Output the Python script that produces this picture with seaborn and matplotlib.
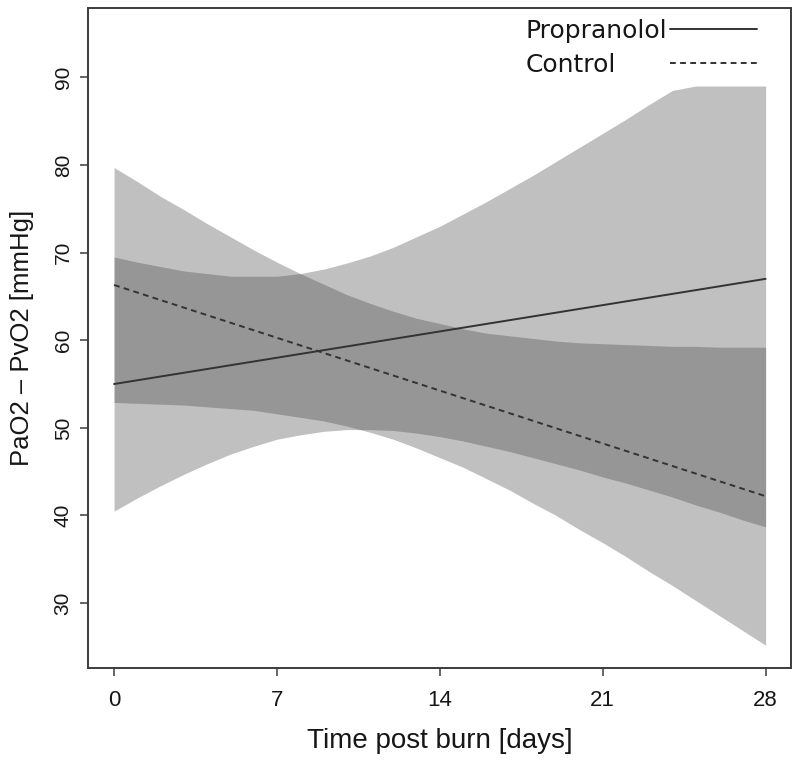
import matplotlib
matplotlib.use("Agg")
import matplotlib.pyplot as plt
import seaborn as sns
import pandas as pd
from matplotlib.lines import Line2D

# ================= data =================
DAYS = list(range(0, 29))

# fitted lines are straight: start / end values
LINE_DAYS = [0, 28]
PROP_MEAN = [55.0, 67.0]
CTRL_MEAN = [66.3, 42.2]

# confidence band limits, one value per day
PROP_LO = [40.5, 42.0, 43.4, 44.7, 45.9, 47.0, 47.9, 48.7, 49.2, 49.6,
           49.8, 49.8, 49.7, 49.4, 49.0, 48.5, 47.9, 47.3, 46.6, 45.9,
           45.2, 44.4, 43.7, 42.9, 42.1, 41.2, 40.4, 39.5, 38.7]
PROP_HI = [69.5, 68.9, 68.4, 67.9, 67.6, 67.3, 67.3, 67.3, 67.6, 68.1,
           68.8, 69.6, 70.6, 71.8, 73.0, 74.4, 75.8, 77.3, 78.8, 80.4,
           82.0, 83.6, 85.2, 86.9, 88.5, 89.0, 89.0, 89.0, 89.0]
CTRL_LO = [52.9, 52.8, 52.7, 52.6, 52.4, 52.2, 52.0, 51.6, 51.2, 50.8,
           50.2, 49.5, 48.7, 47.7, 46.6, 45.5, 44.2, 42.9, 41.4, 40.0,
           38.4, 36.9, 35.3, 33.6, 32.0, 30.3, 28.6, 26.9, 25.2]
CTRL_HI = [79.7, 78.1, 76.4, 74.9, 73.3, 71.8, 70.3, 68.9, 67.6, 66.4,
           65.2, 64.2, 63.3, 62.5, 61.9, 61.3, 60.8, 60.5, 60.2, 59.9,
           59.7, 59.6, 59.5, 59.4, 59.3, 59.3, 59.2, 59.2, 59.2]

GROUPS = ['Propranolol', 'Control']
X_TICKS = [0, 7, 14, 21, 28]
Y_TICKS = [30, 40, 50, 60, 70, 80, 90]
X_LABEL = 'Time post burn [days]'
Y_LABEL = 'PaO2 – PvO2 [mmHg]'
# ==============================================================

LINE_COLOR = '#333333'
BAND_COLOR = '#424242'
SPINE_COLOR = '#3c3c3c'
TEXT_COLOR = '#161616'


def main():
    sns.set_theme(style="white")
    plt.rcParams['font.family'] = ['Liberation Sans', 'DejaVu Sans']
    plt.rcParams['text.color'] = TEXT_COLOR
    plt.rcParams['axes.labelcolor'] = TEXT_COLOR
    plt.rcParams['xtick.labelcolor'] = TEXT_COLOR
    plt.rcParams['ytick.labelcolor'] = TEXT_COLOR

    df = pd.concat([
        pd.DataFrame({'day': LINE_DAYS, 'value': PROP_MEAN, 'group': GROUPS[0]}),
        pd.DataFrame({'day': LINE_DAYS, 'value': CTRL_MEAN, 'group': GROUPS[1]}),
    ])

    fig = plt.figure(figsize=(8, 7.63), dpi=100)
    ax = fig.add_axes([0.11, 0.1245, 0.879, 0.865])

    # confidence bands (overlap gives the darker grey)
    ax.fill_between(DAYS, PROP_LO, PROP_HI, color=BAND_COLOR, alpha=0.335, linewidth=0)
    ax.fill_between(DAYS, CTRL_LO, CTRL_HI, color=BAND_COLOR, alpha=0.335, linewidth=0)

    sns.lineplot(data=df, x='day', y='value', style='group',
                 dashes={GROUPS[0]: '', GROUPS[1]: (3, 2.2)},
                 color=LINE_COLOR, linewidth=1.4, legend=False, ax=ax)

    ax.set_xlim(-1.12, 29.1)
    ax.set_ylim(22.6, 97.9)
    ax.set_xticks(X_TICKS)
    ax.set_yticks(Y_TICKS)
    ax.tick_params(axis='both', which='major', bottom=True, left=True,
                   direction='out', length=6, width=1.1, color=SPINE_COLOR)
    ax.tick_params(axis='x', labelsize=16, pad=10)
    ax.tick_params(axis='y', labelsize=15, pad=5)
    for lab in ax.get_yticklabels():
        lab.set_rotation(90)
        lab.set_va('center')

    ax.set_xlabel(X_LABEL, fontsize=20, labelpad=12)
    ax.set_ylabel(Y_LABEL, fontsize=18.5, labelpad=14)

    for sp in ax.spines.values():
        sp.set_color(SPINE_COLOR)
        sp.set_linewidth(1.4)

    # legend: labels on the left, line samples on the right
    handles = [Line2D([], [], color=LINE_COLOR, linewidth=1.4),
               Line2D([], [], color=LINE_COLOR, linewidth=1.4, dashes=(3, 2.2))]
    leg = ax.legend(handles, GROUPS, loc='upper right', bbox_to_anchor=(0.952, 0.984),
                    frameon=False, markerfirst=False, borderpad=0, borderaxespad=0,
                    handlelength=3.5, handletextpad=0.12, labelspacing=0.42,
                    prop={'family': 'DejaVu Sans', 'size': 18})

    # left-align the labels while keeping the samples in one column
    fig.canvas.draw()
    renderer = fig.canvas.get_renderer()
    widths = [t.get_window_extent(renderer).width for t in leg.get_texts()]
    rows = leg._legend_handle_box.get_children()[0].get_children()
    for row, w in zip(rows, widths):
        row.sep += (max(widths) - w) * 72.0 / fig.dpi

    fig.savefig('out.png', dpi=100)
    plt.close(fig)


if __name__ == "__main__":
    main()
